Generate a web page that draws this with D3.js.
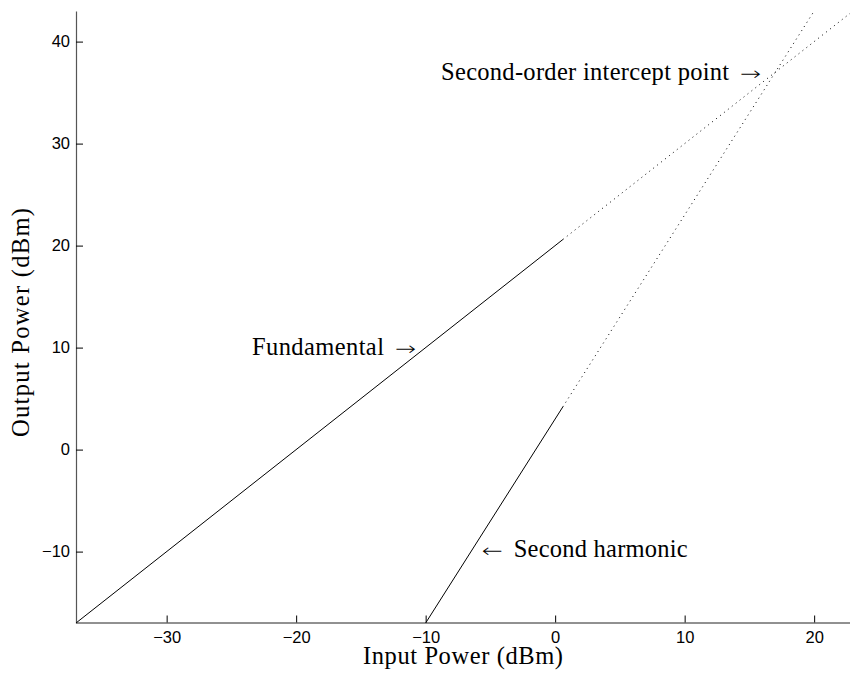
<!DOCTYPE html>
<html>
<head>
<meta charset="utf-8">
<script src="https://cdn.jsdelivr.net/npm/d3@7"></script>
<style>
  html, body { margin: 0; padding: 0; background: #fff; }
  svg { display: block; }
</style>
</head>
<body>
<svg id="chart" width="850" height="673"></svg>
<script>
// Axis extents (dBm)
const xDomain = [-37, 23];
const yDomain = [-17, 43];
const xTicks = [-30, -20, -10, 0, 10, 20];
const yTicks = [-10, 0, 10, 20, 30, 40];

// Fundamental output vs input: measured (solid) and extrapolated (dotted)
const fundamentalMeasured = [[-37, -17], [0.6, 20.6]];
const fundamentalExtrap   = [[0.6, 20.6], [23, 43]];
// Second harmonic output vs input
const harmonicMeasured = [[-10, -17], [0.6, 4.2]];
const harmonicExtrap   = [[0.6, 4.2], [20, 43]];

// Annotations: arrow tip position (data units) on the text baseline
const annotations = [
  { words: "Second-order intercept point", arrow: "\u2192", x: 15.9, y: 36.19, dir: "right", wordsWidth: 288 },
  { words: "Fundamental", arrow: "\u2192", x: -10.75, y: 9.23, dir: "right", wordsWidth: 132 },
  { words: "Second harmonic", arrow: "\u2190", x: -5.67, y: -10.56, dir: "left", wordsWidth: 174 }
];

const svg = d3.select("#chart");
const mLeft = 76, mRight = 853, mTop = 11, mBottom = 623;

const x = d3.scaleLinear().domain(xDomain).range([mLeft, mRight]);
const y = d3.scaleLinear().domain(yDomain).range([mBottom, mTop]);

const serif = "'Liberation Serif', 'Times New Roman', serif";
const sans = "'Liberation Sans', Arial, Helvetica, sans-serif";
const textSize = 24.5;

// Adjust letter spacing of a serif label until it spans `w` pixels
function fitSpacing(sel, w) {
  const n = sel.text().length;
  const cur = sel.node().getComputedTextLength();
  const ls = (w - cur) / Math.max(1, n - 1);
  sel.attr("letter-spacing", ls.toFixed(2));
}

// Axes (ticks point inward)
const xAxis = d3.axisBottom(x).tickValues(xTicks).tickSizeInner(-7).tickSizeOuter(0).tickPadding(9);
const yAxis = d3.axisLeft(y).tickValues(yTicks).tickSizeInner(-7).tickSizeOuter(0).tickPadding(6);

const gx = svg.append("g").attr("transform", `translate(0,${mBottom - 0.5})`).call(xAxis);
gx.select(".domain").attr("stroke", "#222").attr("stroke-width", 1);
gx.selectAll(".tick line").attr("stroke", "#000");
gx.selectAll(".tick text")
  .attr("font-family", sans).attr("font-size", 16.5).attr("fill", "#000")
  .attr("dy", "0.71em");

const gy = svg.append("g").attr("transform", `translate(${mLeft},0)`).call(yAxis);
gy.select(".domain").attr("stroke", "#555").attr("stroke-width", 1.2);
gy.selectAll(".tick line").attr("stroke", "#000");
gy.selectAll(".tick text")
  .attr("font-family", sans).attr("font-size", 16.5).attr("fill", "#000");

// Curves
const line = d3.line().x(d => x(d[0])).y(d => y(d[1]));
const plot = svg.append("g");
[fundamentalMeasured, harmonicMeasured].forEach(seg => {
  plot.append("path").attr("d", line(seg))
    .attr("fill", "none").attr("stroke", "#000").attr("stroke-width", 1);
});
[fundamentalExtrap, harmonicExtrap].forEach(seg => {
  plot.append("path").attr("d", line(seg))
    .attr("fill", "none").attr("stroke", "#000").attr("stroke-width", 1)
    .attr("stroke-dasharray", "1 4");
});

// Annotation labels: words plus a stretched arrow glyph
const arrowLen = 21, wordGap = 11;
annotations.forEach(a => {
  const tipX = x(a.x), base = y(a.y);
  const right = a.dir === "right";
  const g = svg.append("g");
  g.append("text")
    .attr("x", right ? tipX - arrowLen : tipX)
    .attr("y", base)
    .attr("font-family", "'DejaVu Sans', sans-serif").attr("font-size", 19)
    .attr("font-weight", 300)
    .attr("textLength", arrowLen).attr("lengthAdjust", "spacingAndGlyphs")
    .text(a.arrow);
  const w = g.append("text")
    .attr("x", right ? tipX - arrowLen - wordGap - a.wordsWidth : tipX + arrowLen + wordGap)
    .attr("y", base)
    .attr("font-family", serif).attr("font-size", textSize)
    .text(a.words);
  fitSpacing(w, a.wordsWidth);
});

// Axis titles
const xt = svg.append("text").attr("x", 363).attr("y", 664)
  .attr("font-family", serif).attr("font-size", textSize)
  .text("Input Power (dBm)");
fitSpacing(xt, 200);

const yt = svg.append("text")
  .attr("transform", `translate(29,437) rotate(-90)`)
  .attr("font-family", serif).attr("font-size", textSize)
  .text("Output Power (dBm)");
fitSpacing(yt, 229);
</script>
</body>
</html>
